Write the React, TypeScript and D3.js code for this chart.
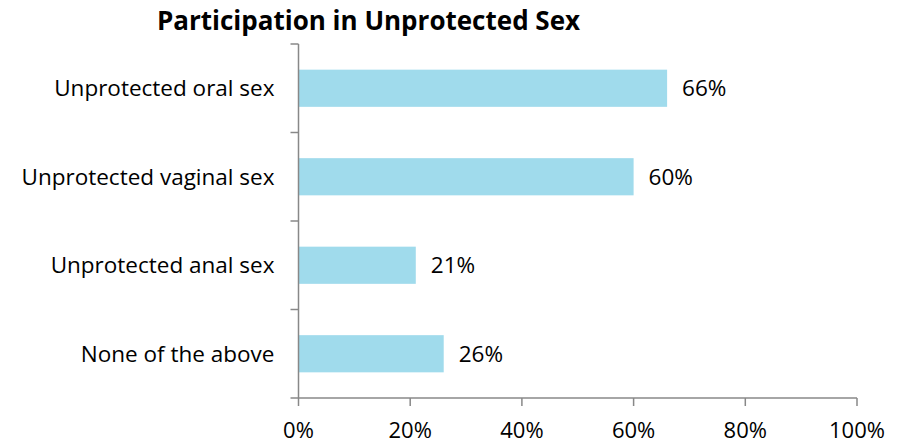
import { useMemo } from "react";
import * as d3 from "d3";

const categories = [
    "Unprotected oral sex",
    "Unprotected vaginal sex",
    "Unprotected anal sex",
    "None of the above",
];
const values = [66, 60, 21, 26];
const xTicks = [0, 20, 40, 60, 80, 100];

const WIDTH = 898;
const HEIGHT = 446;
const MARGIN = { top: 44, right: 41, bottom: 48, left: 298.5 };
const FONT = "'Open Sans', sans-serif";
const FS = 22.5;

const App = () => {
    const innerW = WIDTH - MARGIN.left - MARGIN.right;
    const innerH = HEIGHT - MARGIN.top - MARGIN.bottom;

    const x = useMemo(() => d3.scaleLinear().domain([0, 100]).range([0, innerW]), [innerW]);
    const y = useMemo(
        () => d3.scaleBand<string>().domain(categories).range([0, innerH]).paddingInner(0.58).paddingOuter(0.29),
        [innerH]
    );
    const bandStep = innerH / categories.length;

    return (
        <svg width={WIDTH} height={HEIGHT} style={{ display: "block", position: "absolute", left: 0, top: 0 }}>
            <rect width={WIDTH} height={HEIGHT} fill="#fff" />
            <text x={368.5} y={30} textAnchor="middle" fontFamily={FONT} fontWeight="bold" fontSize={26} fill="#000">
                Participation in Unprotected Sex
            </text>
            <g transform={`translate(${MARGIN.left}, ${MARGIN.top})`}>
                {categories.map((c, i) => (
                    <rect
                        key={c}
                        x={x(0)}
                        y={y(c)}
                        width={x(values[i]) - x(0)}
                        height={y.bandwidth()}
                        fill="#a0dbec"
                    />
                ))}
                {categories.map((c, i) => (
                    <text
                        key={c}
                        x={x(values[i]) + 15}
                        y={(y(c) ?? 0) + y.bandwidth() / 2}
                        dy="0.35em"
                        fontFamily={FONT}
                        fontSize={FS}
                        fill="#000"
                    >
                        {values[i]}%
                    </text>
                ))}
                {categories.map((c) => (
                    <text
                        key={c}
                        x={-24}
                        y={(y(c) ?? 0) + y.bandwidth() / 2}
                        dy="0.35em"
                        textAnchor="end"
                        fontFamily={FONT}
                        fontSize={FS}
                        fill="#000"
                    >
                        {c}
                    </text>
                ))}
                {d3.range(categories.length + 1).map((i) => (
                    <line key={i} x1={-8} x2={0} y1={i * bandStep} y2={i * bandStep} stroke="#888" strokeWidth={1.5} />
                ))}
                <line x1={0} x2={0} y1={0} y2={innerH} stroke="#888" strokeWidth={1.5} />
                <line x1={0} x2={innerW} y1={innerH} y2={innerH} stroke="#888" strokeWidth={1.5} />
                {xTicks.map((t) => (
                    <g key={t}>
                        <line x1={x(t)} x2={x(t)} y1={innerH} y2={innerH + 8} stroke="#888" strokeWidth={1.5} />
                        <text
                            x={x(t)}
                            y={innerH + 40}
                            textAnchor="middle"
                            fontFamily={FONT}
                            fontSize={22}
                            fill="#000"
                        >
                            {t}%
                        </text>
                    </g>
                ))}
            </g>
        </svg>
    );
};

export default App;
